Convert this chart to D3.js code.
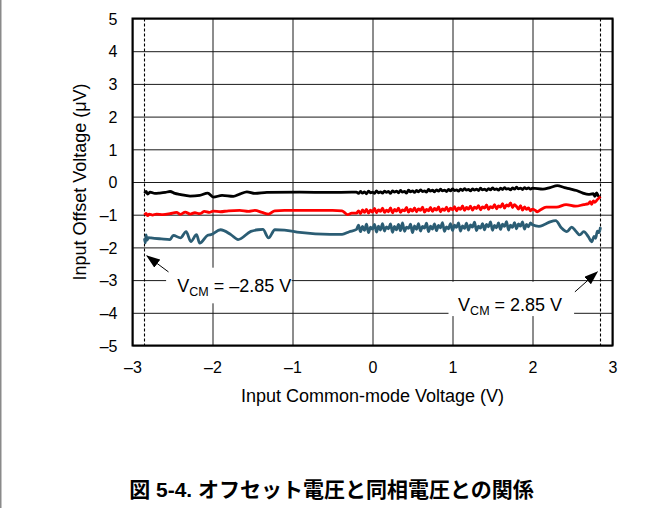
<html>
<head>
<meta charset="utf-8">
<title>offset vs common-mode</title>
<script src="https://d3js.org/d3.v7.min.js"></script>
<style>
  body { margin: 0; background: #fff; }
  text { font-family: "Liberation Sans", Arial, sans-serif; fill: #000; }
</style>
</head>
<body>
<script>
    // axis ticks
    var xTicks = [-3, -2, -1, 0, 1, 2, 3];
    var yTicks = [5, 4, 3, 2, 1, 0, -1, -2, -3, -4, -5];

    // smooth parts of the sweep, [Vcm, Vos]
    var blackLeft = [[-2.85,-0.34],[-2.83,-0.29],[-2.81,-0.37],[-2.78,-0.31],[-2.72,-0.35],[-2.66,-0.34],
        [-2.59,-0.32],[-2.53,-0.29],[-2.47,-0.35],[-2.41,-0.38],[-2.28,-0.43],[-2.16,-0.41],[-2.06,-0.34],
        [-1.99,-0.46],[-1.88,-0.41],[-1.74,-0.44],[-1.66,-0.37],[-1.57,-0.30],[-1.47,-0.35],[-1.32,-0.32],
        [-0.91,-0.31],[-0.53,-0.32],[-0.26,-0.31]];
    var blackRight = [[2.00,-0.19],[2.13,-0.22],[2.22,-0.17],[2.31,-0.11],[2.40,-0.17],[2.47,-0.21],
        [2.55,-0.26],[2.63,-0.34],[2.70,-0.38],[2.76,-0.36],[2.78,-0.44],[2.80,-0.33],[2.82,-0.42],[2.85,-0.47]];

    var redLeft = [[-2.85,-1.01],[-2.83,-0.96],[-2.81,-1.03],[-2.79,-0.98],[-2.75,-1.01],[-2.70,-0.98],
        [-2.62,-1.00],[-2.53,-0.97],[-2.45,-0.93],[-2.40,-0.99],[-2.34,-0.92],[-2.28,-0.98],[-2.22,-0.94],
        [-2.16,-0.97],[-2.10,-0.90],[-2.04,-0.93],[-1.99,-0.89],[-1.90,-0.91],[-1.80,-0.88],[-1.66,-0.87],
        [-1.55,-0.90],[-1.47,-0.87],[-1.38,-0.93],[-1.30,-0.98],[-1.22,-0.88],[-1.10,-0.87],[-0.50,-0.87],
        [-0.38,-0.88],[-0.31,-1.00],[-0.26,-0.95]];
    var redRight = [[2.03,-0.86],[2.06,-0.91],[2.10,-0.85],[2.17,-0.77],[2.30,-0.77],[2.42,-0.69],
        [2.54,-0.74],[2.64,-0.69],[2.70,-0.66],[2.72,-0.60],[2.74,-0.68],[2.76,-0.58],[2.78,-0.62],
        [2.81,-0.54],[2.85,-0.44]];

    var tealLeft = [[-2.85,-1.72],[-2.84,-1.86],[-2.83,-1.62],[-2.82,-1.78],[-2.80,-1.70],[-2.77,-1.71],
        [-2.64,-1.74],[-2.53,-1.76],[-2.49,-1.63],[-2.40,-1.71],[-2.33,-1.52],[-2.27,-1.82],[-2.20,-1.61],
        [-2.16,-1.87],[-2.06,-1.63],[-2.02,-1.61],[-1.90,-1.46],[-1.77,-1.61],[-1.68,-1.76],[-1.52,-1.51],
        [-1.43,-1.46],[-1.37,-1.45],[-1.30,-1.71],[-1.22,-1.46],[-1.10,-1.47],[-0.91,-1.54],[-0.53,-1.60],
        [-0.38,-1.60],[-0.29,-1.52]];
    var tealRight = [[2.00,-1.31],[2.08,-1.36],[2.15,-1.30],[2.22,-1.22],[2.29,-1.18],[2.36,-1.40],
        [2.43,-1.52],[2.49,-1.38],[2.54,-1.50],[2.59,-1.62],[2.64,-1.52],[2.70,-1.68],[2.74,-1.83],
        [2.77,-1.66],[2.79,-1.72],[2.81,-1.50],[2.83,-1.55],[2.85,-1.38]];

    // noisy middle part, sampled every 25 mV from -0.2 V to 2.0 V
    var noiseStart = -0.2, noiseStep = 0.025;
    var blackNoise = [
        -0.31,-0.35,-0.29,-0.34,-0.30,-0.36,-0.28,-0.33,-0.31,-0.35,
        -0.27,-0.33,-0.30,-0.34,-0.28,-0.32,-0.29,-0.35,-0.27,-0.31,
        -0.28,-0.33,-0.26,-0.31,-0.29,-0.34,-0.25,-0.30,-0.27,-0.32,
        -0.26,-0.30,-0.24,-0.29,-0.27,-0.31,-0.23,-0.28,-0.25,-0.30,
        -0.24,-0.28,-0.22,-0.27,-0.25,-0.29,-0.23,-0.27,-0.21,-0.26,
        -0.24,-0.28,-0.22,-0.26,-0.20,-0.25,-0.23,-0.27,-0.21,-0.25,
        -0.22,-0.26,-0.19,-0.24,-0.22,-0.26,-0.20,-0.24,-0.18,-0.23,
        -0.21,-0.25,-0.19,-0.23,-0.17,-0.22,-0.20,-0.24,-0.18,-0.22,
        -0.16,-0.21,-0.19,-0.23,-0.17,-0.21,-0.18,-0.22,-0.19];
    var redNoise = [
        -0.95,-0.88,-0.97,-0.85,-0.93,-0.84,-0.95,-0.86,-0.92,-0.81,
        -0.94,-0.85,-0.90,-0.80,-0.93,-0.86,-0.91,-0.79,-0.94,-0.84,
        -0.89,-0.80,-0.93,-0.85,-0.88,-0.78,-0.92,-0.83,-0.89,-0.79,
        -0.91,-0.82,-0.87,-0.77,-0.92,-0.84,-0.88,-0.78,-0.90,-0.81,
        -0.86,-0.76,-0.91,-0.82,-0.87,-0.77,-0.89,-0.80,-0.85,-0.75,
        -0.88,-0.79,-0.84,-0.73,-0.87,-0.78,-0.83,-0.74,-0.86,-0.77,
        -0.81,-0.72,-0.85,-0.76,-0.80,-0.70,-0.84,-0.75,-0.79,-0.69,
        -0.82,-0.73,-0.77,-0.66,-0.80,-0.70,-0.74,-0.64,-0.78,-0.69,
        -0.75,-0.83,-0.72,-0.86,-0.76,-0.84,-0.79,-0.88,-0.83];
    var tealNoise = [
        -1.45,-1.32,-1.52,-1.36,-1.48,-1.29,-1.55,-1.38,-1.44,-1.30,
        -1.53,-1.35,-1.47,-1.27,-1.50,-1.37,-1.43,-1.28,-1.54,-1.36,
        -1.46,-1.30,-1.49,-1.25,-1.51,-1.38,-1.42,-1.29,-1.55,-1.34,
        -1.45,-1.27,-1.50,-1.36,-1.41,-1.26,-1.52,-1.35,-1.44,-1.28,
        -1.49,-1.33,-1.40,-1.24,-1.51,-1.37,-1.43,-1.27,-1.48,-1.32,
        -1.39,-1.25,-1.50,-1.34,-1.42,-1.26,-1.47,-1.31,-1.38,-1.23,
        -1.49,-1.35,-1.41,-1.27,-1.46,-1.30,-1.37,-1.22,-1.48,-1.33,
        -1.40,-1.25,-1.45,-1.29,-1.36,-1.21,-1.47,-1.32,-1.39,-1.24,
        -1.43,-1.28,-1.35,-1.22,-1.44,-1.30,-1.37,-1.25,-1.31];

    var series = [
        {color: '#000000', left: blackLeft, noise: blackNoise, right: blackRight},
        {color: '#ff0000', left: redLeft, noise: redNoise, right: redRight},
        {color: '#2b5d74', left: tealLeft, noise: tealNoise, right: tealRight}
    ];

    var width = 663, height = 508;
    var margin = {left: 132.5, top: 18.5};
    var w = 480, h = 327;

    var svg = d3.select('body').append('svg')
        .attr('width', width)
        .attr('height', height);

    // grey page edge on the left
    svg.append('rect').attr('x', 0).attr('y', 0).attr('width', 1.5).attr('height', height).attr('fill', '#8a8a8a');

    var g = svg.append('g').attr('transform', 'translate(' + margin.left + ',' + margin.top + ')');

    var x = d3.scaleLinear().domain([-3, 3]).range([0, w]);
    var y = d3.scaleLinear().domain([-5, 5]).range([h, 0]);

    var fmt = function(d) { return d < 0 ? '\u2013' + Math.abs(d) : String(d); };

    var xAxis = g.append('g')
        .attr('transform', 'translate(0,' + h + ')')
        .call(d3.axisBottom(x).tickValues(xTicks).tickSize(-h).tickPadding(16).tickFormat(fmt));
    var yAxis = g.append('g')
        .call(d3.axisLeft(y).tickValues(yTicks).tickSize(-w).tickPadding(15).tickFormat(fmt));

    [xAxis, yAxis].forEach(function(a) {
        a.select('.domain').remove();
        a.selectAll('line').attr('stroke', '#1a1a1a').attr('stroke-width', 1);
        a.selectAll('text').style('font-size', '16px').style('font-family', '"Liberation Sans", Arial, sans-serif').attr('fill', '#000');
    });
    yAxis.selectAll('text').attr('dy', '0.36em');

    // dashed limits at +-2.85 V
    g.selectAll('.lim')
        .data([-2.85, 2.85])
        .enter()
        .append('line')
        .attr('x1', d => x(d)).attr('x2', d => x(d))
        .attr('y1', 0).attr('y2', h)
        .attr('stroke', '#000')
        .attr('stroke-width', 1.1)
        .attr('stroke-dasharray', '3,2');

    var line = d3.line()
        .x(d => x(d[0]))
        .y(d => y(d[1]))
        .curve(d3.curveMonotoneX);

    series.forEach(function(s) {
        var pts = s.left.concat(s.noise.map((v, i) => [noiseStart + i * noiseStep, v]), s.right);
        g.append('path')
            .datum(pts)
            .attr('fill', 'none')
            .attr('stroke', s.color)
            .attr('stroke-width', 2.8)
            .attr('stroke-linejoin', 'round')
            .attr('d', line);
    });

    // annotations
    var notes = [
        {box: [-2.58, -2.62, -1.01, -3.71], tx: -2.44, ty: -3.36, val: ' = \u20132.85 V',
         from: [-2.55, -2.75], to: [-2.82, -2.26]},
        {box: [0.95, -3.05, 2.52, -4.10], tx: 1.07, ty: -3.93, val: ' = 2.85 V',
         from: [2.53, -3.36], to: [2.81, -2.75]}
    ];

    svg.append('defs').append('marker')
        .attr('id', 'head')
        .attr('markerUnits', 'userSpaceOnUse')
        .attr('viewBox', '0 0 14 10')
        .attr('refX', 13).attr('refY', 5)
        .attr('markerWidth', 14).attr('markerHeight', 10)
        .attr('orient', 'auto')
        .append('path')
        .attr('d', 'M0,0 L14,5 L0,10 Z')
        .attr('fill', '#000');

    notes.forEach(function(n) {
        g.append('rect')
            .attr('x', x(n.box[0])).attr('y', y(n.box[1]))
            .attr('width', x(n.box[2]) - x(n.box[0]))
            .attr('height', y(n.box[3]) - y(n.box[1]))
            .attr('fill', '#fff');
        var t = g.append('text')
            .attr('x', x(n.tx)).attr('y', y(n.ty))
            .style('font-size', '18px');
        t.append('tspan').text('V');
        t.append('tspan').attr('dy', 4).style('font-size', '12.5px').text('CM');
        t.append('tspan').attr('dy', -4).text(n.val);
        g.append('line')
            .attr('x1', x(n.from[0])).attr('y1', y(n.from[1]))
            .attr('x2', x(n.to[0])).attr('y2', y(n.to[1]))
            .attr('stroke', '#000').attr('stroke-width', 1)
            .attr('marker-end', 'url(#head)');
    });

    // frame
    g.append('rect')
        .attr('width', w).attr('height', h)
        .attr('fill', 'none')
        .attr('stroke', '#000')
        .attr('stroke-width', 2);

    // axis titles
    svg.append('text')
        .attr('x', margin.left + w / 2).attr('y', 402)
        .attr('text-anchor', 'middle')
        .style('font-size', '18px')
        .text('Input Common-mode Voltage (V)');
    svg.append('text')
        .attr('transform', 'translate(86,' + (margin.top + h / 2) + ') rotate(-90)')
        .attr('text-anchor', 'middle')
        .style('font-size', '18px')
        .text('Input Offset Voltage (\u03bcV)');

    // figure caption
    svg.append('text')
        .attr('x', width / 2).attr('y', 497)
        .attr('text-anchor', 'middle')
        .style('font-family', '"Liberation Sans", "Noto Sans CJK JP", sans-serif')
        .style('font-weight', 'bold')
        .style('font-size', '21px')
        .text('図 5-4. オフセット電圧と同相電圧との関係');
</script>
</body>
</html>
